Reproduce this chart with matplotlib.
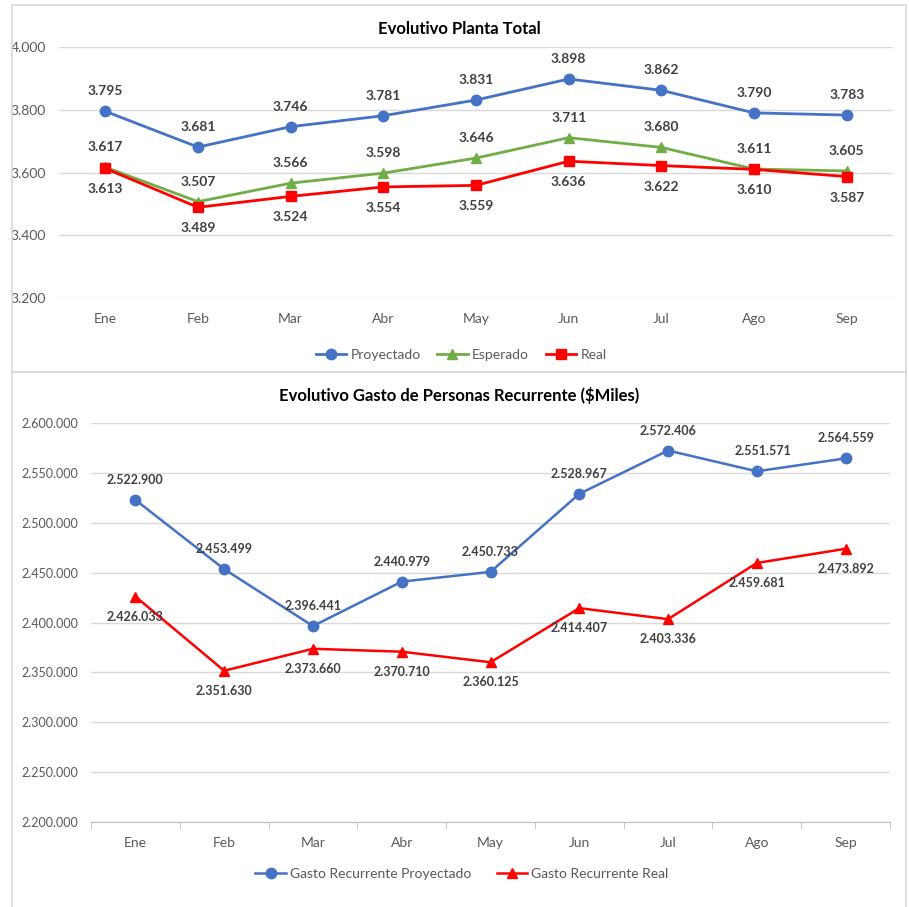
import matplotlib.pyplot as plt
from matplotlib.patches import Rectangle

plt.rcParams['font.family'] = ['Lato', 'DejaVu Sans']

###############################################################################
# Data
meses = ['Ene', 'Feb', 'Mar', 'Abr', 'May', 'Jun', 'Jul', 'Ago', 'Sep']

# Evolutivo Planta Total
proyectado = [3795, 3681, 3746, 3781, 3831, 3898, 3862, 3790, 3783]
esperado = [3617, 3507, 3566, 3598, 3646, 3711, 3680, 3611, 3605]
real = [3613, 3489, 3524, 3554, 3559, 3636, 3622, 3610, 3587]
planta_ticks = [3200, 3400, 3600, 3800, 4000]

# Evolutivo Gasto de Personas Recurrente ($Miles)
gasto_proy = [2522900, 2453499, 2396441, 2440979, 2450733,
              2528967, 2572406, 2551571, 2564559]
gasto_real = [2426033, 2351630, 2373660, 2370710, 2360125,
              2414407, 2403336, 2459681, 2473892]
gasto_ticks = [2200000, 2250000, 2300000, 2350000, 2400000,
               2450000, 2500000, 2550000, 2600000]

BLUE = '#4472C4'
GREEN = '#70AD47'
RED = '#FF0000'
GRID = '#D9D9D9'
TICK = '#595959'
LABEL = '#404040'

W, H = 909, 907


def fmt(v):
    return f"{v:,.0f}".replace(',', '.')


def px_axes(fig, left, top, right, bottom):
    return fig.add_axes([left / W, 1 - bottom / H,
                         (right - left) / W, (bottom - top) / H])


def style_axes(ax, ticks, fs):
    ax.set_xlim(-0.5, len(meses) - 0.5)
    ax.set_ylim(ticks[0], ticks[-1])
    ax.set_yticks(ticks)
    ax.set_yticklabels([fmt(t) for t in ticks], fontsize=fs, color=TICK)
    ax.set_xticks(range(len(meses)))
    ax.set_xticklabels(meses, fontsize=10, color=TICK)
    ax.grid(axis='y', color=GRID, linewidth=1)
    ax.set_axisbelow(True)
    for s in ax.spines.values():
        s.set_visible(False)
    ax.tick_params(axis='y', length=0, pad=9.4)
    ax.tick_params(axis='x', length=0, pad=11)


def labels(ax, vals, dy, fs):
    for i, v in enumerate(vals):
        ax.annotate(fmt(v), (i, v), xytext=(0, dy), textcoords='offset pixels',
                    ha='center', va='center', fontsize=fs,
                    fontweight='bold', color=LABEL)


fig = plt.figure(figsize=(W / 100, H / 100), dpi=100)

# panel borders
fig.patches.append(Rectangle((12 / W, 1 - 372 / H), 894 / W, 367 / H,
                             transform=fig.transFigure, fill=False,
                             edgecolor=GRID, linewidth=1.2))
fig.patches.append(Rectangle((12 / W, -0.01), 894 / W, 1 - 372 / H + 0.01,
                             transform=fig.transFigure, fill=False,
                             edgecolor=GRID, linewidth=1.2))

###############################################################################
# Top chart
ax1 = px_axes(fig, 59, 47, 893, 298)
style_axes(ax1, planta_ticks, 10)
x = range(len(meses))
ax1.plot(x, proyectado, color=BLUE, lw=2, marker='o', ms=7.5, label='Proyectado')
ax1.plot(x, esperado, color=GREEN, lw=2, marker='^', ms=7, label='Esperado')
ax1.plot(x, real, color=RED, lw=2, marker='s', ms=6.5, label='Real')
labels(ax1, proyectado, 20, 10)
labels(ax1, esperado, 20, 10)
labels(ax1, real, -21, 10)
fig.text(459 / W, 1 - 29 / H, 'Evolutivo Planta Total', ha='center',
         va='center', fontsize=12, fontweight='bold', color='black')
fig.legend(*ax1.get_legend_handles_labels(), loc='center',
           bbox_to_anchor=(461 / W, 1 - 355 / H), ncol=3, frameon=False,
           fontsize=10, handlelength=2.2, columnspacing=1.2, handletextpad=0.3,
           labelcolor=TICK)

###############################################################################
# Bottom chart
ax2 = px_axes(fig, 91, 423, 890, 822)
style_axes(ax2, gasto_ticks, 9)
ax2.spines['bottom'].set_visible(True)
ax2.spines['bottom'].set_color('#BFBFBF')
ax2.set_xticks([i - 0.5 for i in range(len(meses) + 1)], minor=True)
ax2.tick_params(axis='x', which='minor', length=5, color='#BFBFBF')
ax2.plot(x, gasto_proy, color=BLUE, lw=1.8, marker='o', ms=7.5,
         label='Gasto Recurrente Proyectado')
ax2.plot(x, gasto_real, color=RED, lw=1.8, marker='^', ms=7.5,
         label='Gasto Recurrente Real')
for i, v in enumerate(gasto_proy):
    dx = 6 if i == 7 else 0
    ax2.annotate(fmt(v), (i, v), xytext=(dx, 20), textcoords='offset pixels',
                 ha='center', va='center', fontsize=9, fontweight='bold',
                 color=LABEL)
ax2.annotate('', (7, gasto_proy[7]), xytext=(7.05, gasto_proy[7] + 5500),
             arrowprops=dict(arrowstyle='-', color='#A6A6A6', lw=0.8))
for i, v in enumerate(gasto_real):
    ax2.annotate(fmt(v), (i, v), xytext=(0, -20), textcoords='offset pixels',
                 ha='center', va='center', fontsize=9, fontweight='bold',
                 color=LABEL)
fig.text(459 / W, 1 - 395 / H, 'Evolutivo Gasto de Personas Recurrente ($Miles)',
         ha='center', va='center', fontsize=12, fontweight='bold', color='black')
fig.legend(*ax2.get_legend_handles_labels(), loc='center',
           bbox_to_anchor=(462 / W, 1 - 874 / H), ncol=2, frameon=False,
           fontsize=10, handlelength=2.2, columnspacing=1.8, handletextpad=0.3,
           labelcolor=TICK)

fig.savefig('out.png', dpi=100)
